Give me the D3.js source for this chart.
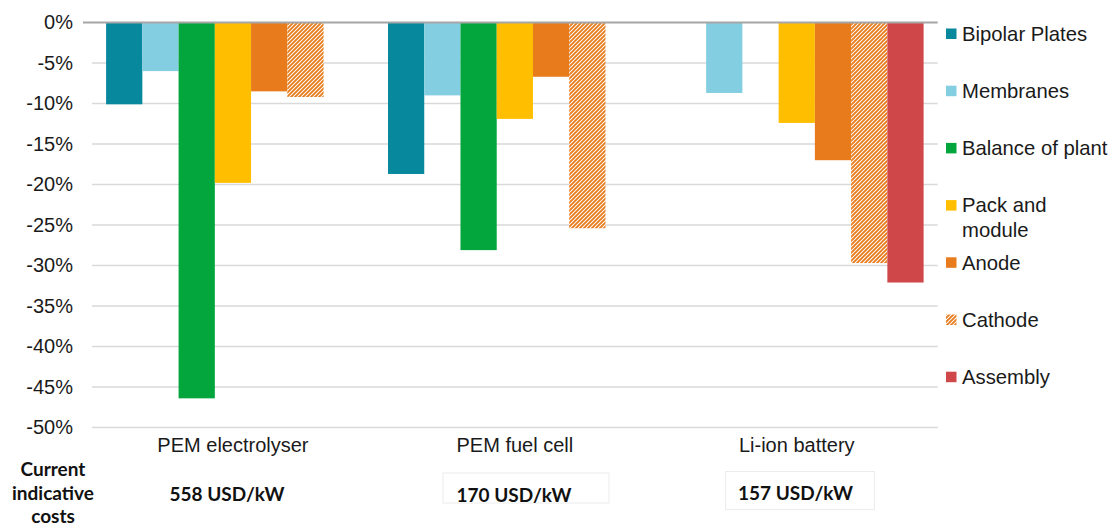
<!DOCTYPE html>
<html>
<head>
<meta charset="utf-8">
<script src="https://cdn.jsdelivr.net/npm/d3@7"></script>
<style>
  html, body { margin: 0; padding: 0; background: #ffffff; }
  svg { display: block; }
</style>
</head>
<body>
<svg id="chart" width="1113" height="527"></svg>
<script>
// ---- data ----
const categories = ["PEM electrolyser", "PEM fuel cell", "Li-ion battery"];
const seriesNames = ["Bipolar Plates", "Membranes", "Balance of plant", "Pack and module", "Anode", "Cathode", "Assembly"];
const bipolarPlates  = [-10.1, -18.7, null];
const membranes      = [-6.0, -9.0, -8.7];
const balanceOfPlant = [-46.4, -28.1, null];
const packAndModule  = [-19.8, -11.9, -12.4];
const anode          = [-8.5, -6.7, -17.0];
const cathode        = [-9.2, -25.4, -29.7];
const assembly       = [null, null, -32.1];
const yTicks = [0, -5, -10, -15, -20, -25, -30, -35, -40, -45, -50];
const costLabels = ["558 USD/kW", "170 USD/kW", "157 USD/kW"];
const costHeading = ["Current", "indicative", "costs"];
const colors = ["#07889d", "#84cee1", "#03a63d", "#ffbf00", "#e87b1c", "#e87b1c", "#d0474a"];

const seriesValues = [bipolarPlates, membranes, balanceOfPlant, packAndModule, anode, cathode, assembly];

// ---- layout ----
const svg = d3.select("#chart");
const plotLeft = 92, plotRight = 937.7;
const yTop = 22.5, yBottom = 427.5;

const x0 = d3.scaleBand().domain(categories).range([plotLeft, plotRight])
  .paddingInner(0.1).paddingOuter(0.05);
const x1 = d3.scaleBand().domain(seriesNames).range([0, x0.bandwidth()]).padding(0);
const y = d3.scaleLinear().domain([-50, 0]).range([yBottom, yTop]);

const font = "'Liberation Sans', Arial, sans-serif";
const textColor = "#1a1a1a";

// hatch pattern
const defs = svg.append("defs");
const pat = defs.append("pattern").attr("id", "hatch")
  .attr("patternUnits", "userSpaceOnUse").attr("width", 4).attr("height", 4);
pat.append("rect").attr("width", 4).attr("height", 4).attr("fill", "#ffffff");
pat.append("path").attr("d", "M-1,1 L1,-1 M0,4 L4,0 M3,5 L5,3")
  .attr("stroke", colors[5]).attr("stroke-width", 1.9).attr("shape-rendering", "auto");

// gridlines
const grid = svg.append("g");
grid.selectAll("line").data(yTicks.filter(d => d !== 0)).join("line")
  .attr("x1", plotLeft).attr("x2", plotRight)
  .attr("y1", d => y(d)).attr("y2", d => y(d))
  .attr("stroke", "#d9d9d9").attr("stroke-width", 1.5);

// y axis labels
const yAxis = d3.axisLeft(y).tickValues(yTicks).tickFormat(d => d + "%").tickSize(0).tickPadding(0);
const yg = svg.append("g").attr("transform", "translate(73,0)").call(yAxis);
yg.select(".domain").remove();
yg.selectAll("text").attr("font-family", font).attr("font-size", 20).attr("fill", textColor);

// bars
const fills = colors.map((c, i) => i === 5 ? "url(#hatch)" : c);
const barData = [];
seriesNames.forEach((s, si) => {
  categories.forEach((c, ci) => {
    const v = seriesValues[si][ci];
    if (v !== null) barData.push({ s, si, c, v });
  });
});
svg.append("g").selectAll("rect").data(barData).join("rect")
  .attr("x", d => x0(d.c) + x1(d.s))
  .attr("width", x1.bandwidth())
  .attr("y", y(0))
  .attr("height", d => y(d.v) - y(0))
  .attr("fill", d => fills[d.si]);

// zero line
svg.append("line").attr("x1", 83).attr("x2", plotRight)
  .attr("y1", y(0)).attr("y2", y(0))
  .attr("stroke", "#a6a6a6").attr("stroke-width", 1.8);

// category labels
const xAxis = d3.axisBottom(x0).tickSize(0).tickPadding(0);
const xg = svg.append("g").attr("transform", "translate(0,438)").call(xAxis);
xg.select(".domain").remove();
xg.selectAll("text").attr("font-family", font).attr("font-size", 20).attr("fill", textColor)
  .attr("dy", "0.71em");

// cost boxes (faint outlines around 2nd and 3rd)
const boldFont = "Lato, 'Open Sans', sans-serif";
const boxes = [null, { x: 443, y: 473, w: 166, h: 30 }, { x: 725.5, y: 471.5, w: 149, h: 38 }];
boxes.forEach(b => {
  if (!b) return;
  svg.append("rect").attr("x", b.x).attr("y", b.y).attr("width", b.w).attr("height", b.h)
    .attr("fill", "none").attr("stroke", "#ececec").attr("stroke-width", 1);
});
const costX = [227, 514, 795.5];
svg.append("g").selectAll("text").data(costLabels).join("text")
  .attr("x", (d, i) => costX[i])
  .attr("y", (d, i) => [501, 501.5, 500][i])
  .attr("text-anchor", "middle")
  .attr("font-family", boldFont).attr("font-weight", 700).attr("font-size", 19)
  .attr("fill", "#111").text(d => d);

svg.append("g").selectAll("text").data(costHeading).join("text")
  .attr("x", 53).attr("y", (d, i) => 476 + i * 23.5)
  .attr("text-anchor", "middle")
  .attr("font-family", boldFont).attr("font-weight", 700).attr("font-size", 19)
  .attr("fill", "#111").text(d => d);

// legend
const legend = svg.append("g");
const legendLines = seriesNames.map(s => s === "Pack and module" ? ["Pack and", "module"] : [s]);
seriesNames.forEach((s, i) => {
  const cy = 33.5 + i * 57.2;
  legend.append("rect").attr("x", 946).attr("y", cy - 5).attr("width", 10.5).attr("height", 10.5)
    .attr("fill", fills[i]);
  legendLines[i].forEach((t, j) => {
    legend.append("text").attr("x", 962).attr("y", cy + j * 24.5)
      .attr("dy", "0.36em")
      .attr("font-family", font).attr("font-size", 20.3).attr("fill", textColor).text(t);
  });
});
</script>
</body>
</html>
